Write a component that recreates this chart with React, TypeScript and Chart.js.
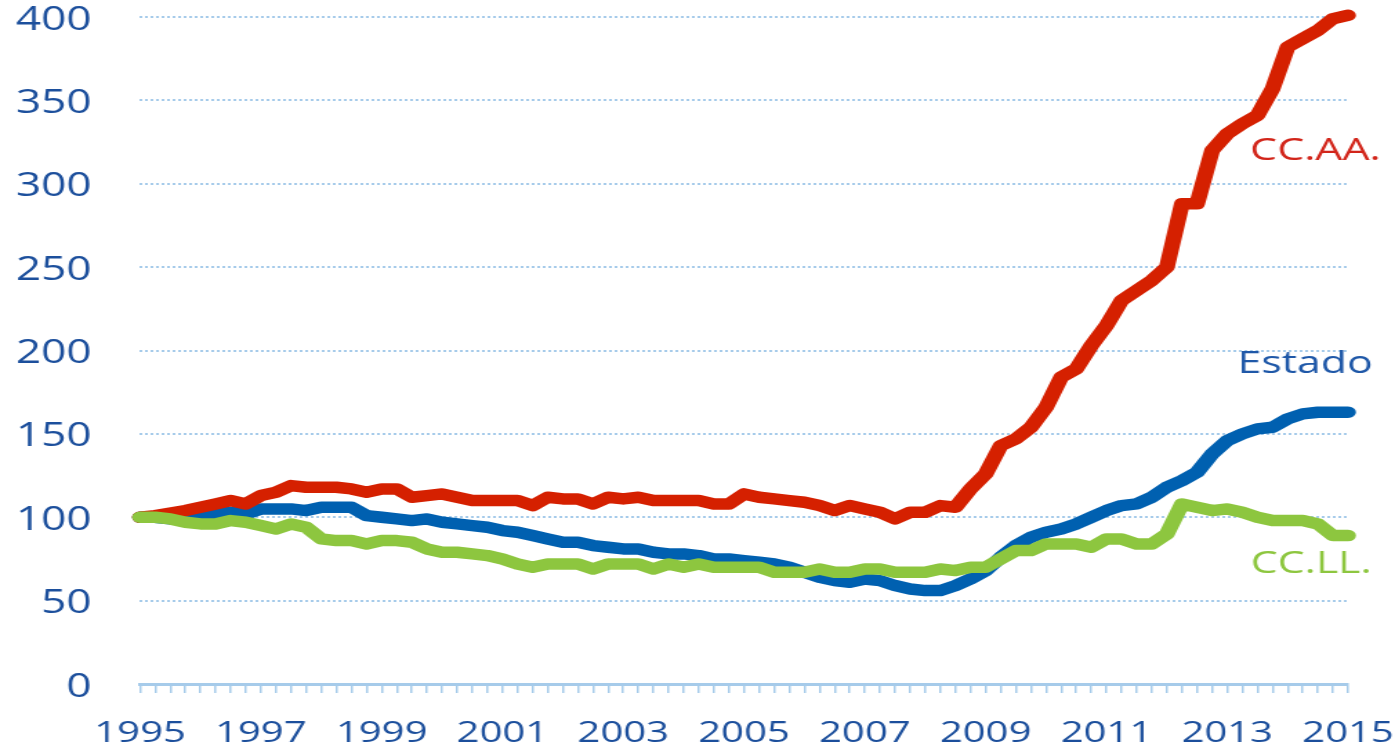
import React, { useEffect, useRef } from "react";
import { Chart, registerables } from "chart.js";

Chart.register(...registerables);

// Quarterly categories, 1995Q1 .. 2015Q1
const quarters: number[] = Array.from({ length: 81 }, (_, i) => 1995 + i * 0.25);

const ccaa: number[] = [
  100, 101, 102.5, 104, 106, 108, 110, 108, 113, 115,
  119, 118, 118, 118, 117, 115, 117, 117, 112, 113,
  114, 112, 110, 110, 110, 110, 107, 112, 111, 111,
  108, 112, 111, 112, 110, 110, 110, 110, 108, 108,
  114, 112, 111, 110, 109, 107, 104, 107, 105, 103,
  99, 103, 103, 107, 106, 117, 126, 143, 147, 154,
  166, 184, 189, 203, 215, 230, 236, 242, 250, 288,
  288, 320, 330, 336, 341, 357, 382, 387, 392, 399,
  401,
];

const estado: number[] = [
  100, 100, 99, 99, 100, 102, 103, 102, 105, 105,
  105, 104, 106, 106, 106, 101, 100, 99, 98, 99,
  97, 96, 95, 94, 92, 91, 89, 87, 85, 85,
  83, 82, 81, 81, 79, 78, 78, 77, 75, 75,
  74, 73, 72, 70, 67, 64, 62, 61, 63, 62,
  59, 57, 56, 56, 59, 63, 68, 76, 83, 88,
  91, 93, 96, 100, 104, 107, 108, 112, 118, 122,
  127, 138, 146, 150, 153, 154, 159, 162, 163, 163,
  163,
];

const ccll: number[] = [
  100, 100, 99, 97, 96, 96, 98, 97, 95, 93,
  96, 94, 87, 86, 86, 84, 86, 86, 85, 81,
  79, 79, 78, 77, 75, 72, 70, 72, 72, 72,
  69, 72, 72, 72, 69, 72, 70, 72, 70, 70,
  70, 70, 67, 67, 67, 69, 67, 67, 69, 69,
  67, 67, 67, 69, 68, 70, 70, 75, 80, 80,
  84, 84, 84, 82, 87, 87, 84, 84, 90, 108,
  106, 104, 105, 103, 100, 98, 98, 98, 96, 89,
  89,
];

const yTicks: number[] = [0, 50, 100, 150, 200, 250, 300, 350, 400];
const xLabelYears: number[] = [1995, 1997, 1999, 2001, 2003, 2005, 2007, 2009, 2011, 2013, 2015];

const seriesNames = ["CC.LL.", "CC.AA.", "Estado"];
const seriesColors = ["#8dc63f", "#d52000", "#0060b0"];
const labelColors = ["#8dc63f", "#d2251a", "#1f58a8"];
// annotation anchors in data units (year, value)
const labelYears = [2014.39, 2014.46, 2014.29];
const labelValues = [73.5, 321.4, 193.4];

const CANVAS_W = 1010;
const CANVAS_H = 746;
const AXIS_COLOR = "#1c4f9c";
const GRID_COLOR = "#a6cbea";

const seriesLabelsPlugin = {
  id: "seriesLabels",
  afterDraw(chart: any) {
    const ctx = chart.ctx;
    const xs = chart.scales.x;
    const ys = chart.scales.y;
    ctx.save();
    ctx.font = "31px 'Open Sans'";
    ctx.textAlign = "center";
    ctx.textBaseline = "middle";
    seriesNames.forEach((name, i) => {
      ctx.fillStyle = labelColors[i];
      ctx.fillText(name, xs.getPixelForValue(labelYears[i]), ys.getPixelForValue(labelValues[i]) + 3);
    });
    ctx.restore();
  },
};

export default function App() {
  const canvasRef = useRef<HTMLCanvasElement | null>(null);

  useEffect(() => {
    const canvas = canvasRef.current;
    if (!canvas) return;
    const seriesData = [ccll, ccaa, estado];
    const chart = new Chart(canvas, {
      type: "line",
      data: {
        datasets: seriesNames.map((name, i) => ({
          label: name,
          data: seriesData[i].map((v, k) => ({ x: quarters[k], y: v })),
          borderColor: seriesColors[i],
          backgroundColor: seriesColors[i],
          borderWidth: 11.5,
          pointRadius: 0,
          tension: 0,
          borderCapStyle: "round",
          borderJoinStyle: "round",
          clip: false,
        })),
      },
      options: {
        responsive: false,
        maintainAspectRatio: false,
        devicePixelRatio: 1,
        animation: false,
        layout: { padding: { left: 0, right: 34, top: 17, bottom: 0 } },
        plugins: {
          legend: { display: false },
          tooltip: { enabled: false },
        },
        scales: {
          x: {
            type: "linear",
            min: 1995,
            max: 2015,
            afterFit: (scale: any) => {
              scale.height = 62;
            },
            afterBuildTicks: (scale: any) => {
              scale.ticks = quarters.map((q) => ({ value: q }));
            },
            ticks: {
              autoSkip: false,
              maxRotation: 0,
              minRotation: 0,
              padding: 0,
              color: AXIS_COLOR,
              font: { family: "'Open Sans'", size: 29, lineHeight: 2.83 },
              callback: (value: any) => (xLabelYears.includes(Number(value)) ? String(value) : ""),
            },
            grid: {
              drawOnChartArea: false,
              drawTicks: true,
              tickLength: 9,
              color: GRID_COLOR,
              lineWidth: 1.5,
            },
            border: { display: true, color: GRID_COLOR, width: 3 },
          },
          y: {
            min: 0,
            max: 400,
            afterFit: (scale: any) => {
              scale.width = 101.4;
            },
            afterBuildTicks: (scale: any) => {
              scale.ticks = yTicks.map((v) => ({ value: v }));
            },
            ticks: {
              padding: 0,
              labelOffset: 3.5,
              color: AXIS_COLOR,
              font: { family: "'Open Sans'", size: 32, lineHeight: 1 },
            },
            grid: {
              drawTicks: true,
              tickLength: 35,
              tickColor: "rgba(0,0,0,0)",
              color: GRID_COLOR,
              lineWidth: 2,
            },
            border: { display: false, dash: [2, 2] },
          },
        },
      },
      plugins: [seriesLabelsPlugin],
    } as any);
    return () => chart.destroy();
  }, []);

  return (
    <div
      style={{
        position: "fixed",
        left: 0,
        top: 0,
        width: 1395,
        height: 746,
        background: "#ffffff",
        overflow: "hidden",
      }}
    >
      <canvas
        ref={canvasRef}
        width={CANVAS_W}
        height={CANVAS_H}
        style={{ display: "block", width: "1395px", height: "746px" }}
      />
    </div>
  );
}
